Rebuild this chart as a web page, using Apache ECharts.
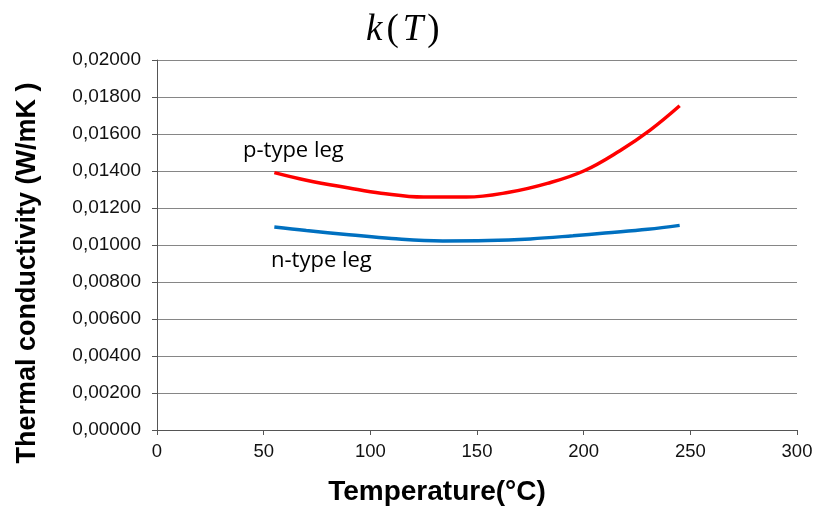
<!DOCTYPE html>
<html><head><meta charset="utf-8">
<script src="https://cdn.jsdelivr.net/npm/echarts@6/dist/echarts.min.js"></script>
<style>html,body{margin:0;padding:0;background:#fff}#c{width:819px;height:510px}</style>
</head><body><div id="c"></div>
<script>
const pTemps = [55, 70, 90, 105, 125, 145, 165, 183, 200, 217, 231, 245];
const pVals  = [0.01391, 0.01350, 0.01308, 0.01280, 0.01259, 0.01259, 0.01285, 0.01333, 0.01400, 0.01510, 0.01620, 0.01753];
const nTemps = [55, 70, 90, 110, 134, 155, 175, 195, 210, 230, 245];
const nVals  = [0.01097, 0.01078, 0.01056, 0.01035, 0.01022, 0.01024, 0.01033, 0.01050, 0.01065, 0.01085, 0.01106];
const yTicks = [0, 0.002, 0.004, 0.006, 0.008, 0.010, 0.012, 0.014, 0.016, 0.018, 0.020];
const xTicks = [0, 50, 100, 150, 200, 250, 300];
const xName = 'Temperature(°C)';
const yName = 'Thermal conductivity (W/mK )';
const pLabel = 'p-type leg';
const nLabel = 'n-type leg';

const chart = echarts.init(document.getElementById('c'), null, {renderer: 'canvas'});
const zip = (a, b) => a.map((v, i) => [v, b[i]]);
chart.setOption({
  animation: false,
  backgroundColor: '#fff',
  grid: {left: 157, right: 22, top: 60, bottom: 80},
  xAxis: {
    type: 'value', min: xTicks[0], max: xTicks[xTicks.length - 1], interval: 50,
    axisLine: {lineStyle: {color: '#555', width: 1}},
    axisTick: {show: true, length: 5, lineStyle: {color: '#555'}},
    axisLabel: {fontFamily: 'Liberation Sans', fontSize: 18.5, color: '#111', margin: 12},
    splitLine: {show: false}
  },
  yAxis: {
    type: 'value', min: yTicks[0], max: yTicks[yTicks.length - 1], interval: 0.002,
    axisLine: {show: true, lineStyle: {color: '#555', width: 1}},
    axisTick: {show: true, length: 5, lineStyle: {color: '#555'}},
    axisLabel: {fontFamily: 'Liberation Sans', fontSize: 19, color: '#111', margin: 16,
      formatter: v => v.toFixed(5).replace('.', ',')},
    splitLine: {show: true, lineStyle: {color: '#868686', width: 1}}
  },
  title: {
    text: '{i|k}{n|(}{i|T}{n|)}', left: 361, top: 7,
    textStyle: {rich: {
      i: {fontFamily: 'Liberation Serif', fontStyle: 'italic', fontWeight: 'normal', fontSize: 37, color: '#000'},
      n: {fontFamily: 'Liberation Serif', fontWeight: 'normal', fontSize: 37, color: '#000', padding: [0, 4]}
    }}
  },
  graphic: [
    {type: 'text', left: 243, top: 140, style: {text: pLabel, font: '22px "Open Sans", "Liberation Sans"', fill: '#000'}},
    {type: 'text', left: 271, top: 250, style: {text: nLabel, font: '22px "Open Sans", "Liberation Sans"', fill: '#000'}},
    {type: 'text', x: 437, y: 492, style: {text: xName, font: 'bold 28px "Liberation Sans"', fill: '#000', align: 'center', verticalAlign: 'middle'}},
    {type: 'text', x: 28, y: 273, rotation: Math.PI / 2, style: {text: yName, font: 'bold 27px "Liberation Sans"', fill: '#000', align: 'center', verticalAlign: 'middle'}}
  ],
  series: [
    {type: 'line', data: zip(pTemps, pVals), smooth: 0.4, showSymbol: false, lineStyle: {color: '#ff0000', width: 3.5}},
    {type: 'line', data: zip(nTemps, nVals), smooth: 0.4, showSymbol: false, lineStyle: {color: '#0070c0', width: 3.5}}
  ]
});
</script></body></html>
